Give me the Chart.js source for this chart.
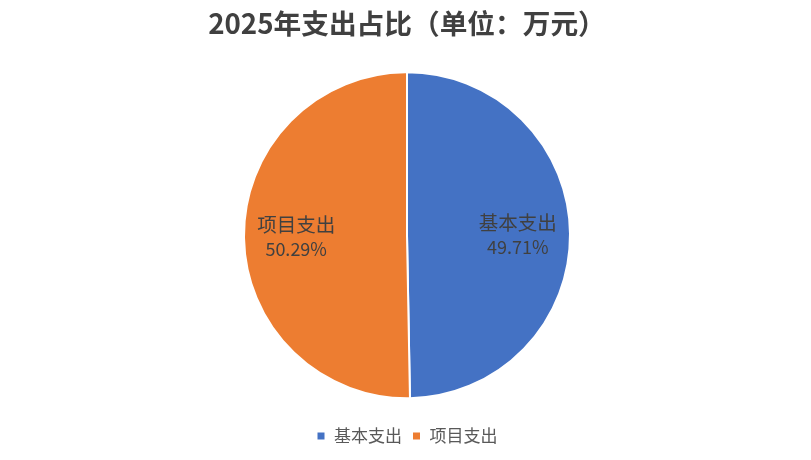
<!DOCTYPE html>
<html>
<head>
<meta charset="utf-8">
<script src="https://cdn.jsdelivr.net/npm/chart.js@4.4.1/dist/chart.umd.min.js"></script>
<style>
html,body{margin:0;padding:0;background:#fff;}
#wrap{width:811px;height:460px;}
</style>
</head>
<body>
<div id="wrap"><canvas id="c"></canvas></div>
<script>
const categories = ['基本支出', '项目支出'];
const shares = [49.71, 50.29];
const colors = ['#4472C4', '#ED7D31'];
const titleText = '2025年支出占比（单位：万元）';

const FONT = "'Noto Sans CJK SC', 'Noto Sans', sans-serif";

const innerLabels = {
  id: 'innerLabels',
  afterDatasetsDraw(chart) {
    const ctx = chart.ctx;
    const meta = chart.getDatasetMeta(0);
    const data = chart.data.datasets[0].data;
    const total = data.reduce((a, b) => a + b, 0);
    ctx.save();
    ctx.fillStyle = '#404040';
    ctx.textAlign = 'center';
    ctx.textBaseline = 'middle';
    meta.data.forEach((arc, i) => {
      const p = arc.getProps(['x', 'y', 'startAngle', 'endAngle', 'outerRadius'], true);
      const mid = (p.startAngle + p.endAngle) / 2;
      const r = p.outerRadius * 0.68;
      const x = p.x + Math.cos(mid) * r;
      const y = p.y + Math.sin(mid) * r;
      ctx.font = '19.5px ' + FONT;
      ctx.fillText(chart.data.labels[i], x, y - 12);
      ctx.font = '18px ' + FONT;
      ctx.fillText((data[i] / total * 100).toFixed(2) + '%', x, y + 13);
    });
    ctx.restore();
  }
};

new Chart(document.getElementById('c'), {
  type: 'pie',
  data: {
    labels: categories,
    datasets: [{
      data: shares,
      backgroundColor: colors,
      borderColor: '#ffffff',
      borderWidth: 2,
      radius: 163
    }]
  },
  options: {
    responsive: true,
    maintainAspectRatio: false,
    animation: false,
    layout: { padding: { left: 3, right: 0, top: 0, bottom: 5.5 } },
    plugins: {
      title: {
        display: true,
        text: titleText,
        color: '#404040',
        font: { family: FONT, size: 27.7, weight: 'bold' },
        padding: { top: 6.5, bottom: 13.2 }
      },
      legend: {
        position: 'bottom',
        labels: {
          boxWidth: 9,
          boxHeight: 9,
          padding: 10,
          color: '#595959',
          font: { family: FONT, size: 17 }
        }
      },
      tooltip: { enabled: false }
    }
  },
  plugins: [innerLabels]
});
</script>
</body>
</html>
